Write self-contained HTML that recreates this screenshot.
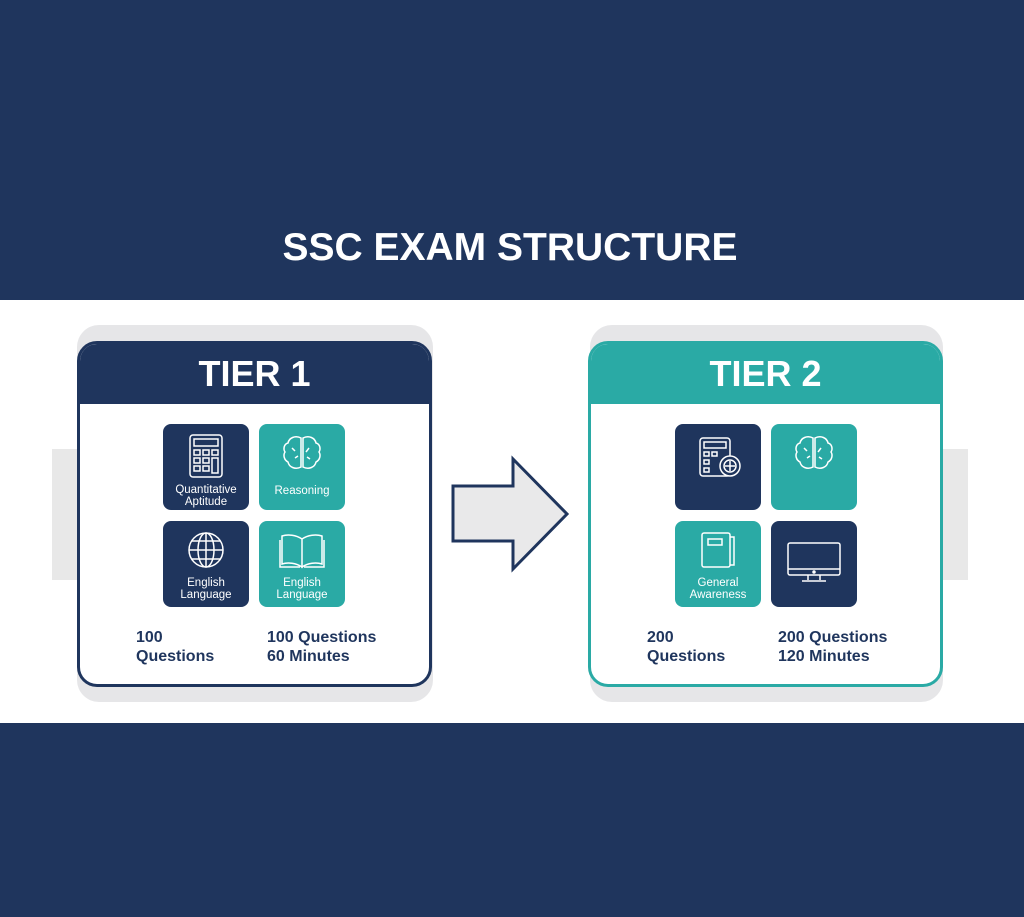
<!DOCTYPE html>
<html><head><meta charset="utf-8"><style>
*{margin:0;padding:0;box-sizing:border-box}
body{width:1024px;height:917px;position:relative;overflow:hidden;background:#fff;font-family:"Liberation Sans",sans-serif}
.band{position:absolute;left:0;width:1024px;background:#1f355d}
.abs{position:absolute}
.shadow{position:absolute;background:#e6e6e8;border-radius:22px}
.side{position:absolute;background:#e8e8e8}
.card{position:absolute;top:341px;width:355px;height:346px;border-radius:20px;background:#fff;overflow:hidden}
.hdr{position:absolute;left:0;top:0;width:100%;height:60px;color:#fff;font-weight:bold;font-size:36px;text-align:center;line-height:60px}
.tile{position:absolute;width:86px;height:86px;border-radius:8px;color:#fff;font-size:11.5px;text-align:center;line-height:12px}
.tile svg{position:absolute;left:23px;top:10px}
.tile .lb{position:absolute;left:0;width:100%}
.n{background:#1f355d}.t{background:#2aaaa5}
.stat{position:absolute;color:#1f355d;font-weight:bold;font-size:16px;line-height:19px}
</style></head><body>
<div class="band" style="top:0;height:300px"></div>
<div class="band" style="top:723px;height:194px"></div>
<div class="abs" style="top:226px;left:0;width:1020px;text-align:center;color:#fff;font-weight:bold;font-size:39px">SSC EXAM STRUCTURE</div>

<div class="side" style="left:52px;top:449px;width:30px;height:131px"></div>
<div class="side" style="left:940px;top:449px;width:28px;height:131px"></div>
<div class="shadow" style="left:77px;top:325px;width:356px;height:377px"></div>
<div class="shadow" style="left:590px;top:325px;width:353px;height:377px"></div>

<div class="card" style="left:77px;border:3px solid #1f355d">
 <div class="hdr" style="background:#1f355d">TIER 1</div>
</div>
<div class="card" style="left:588px;border:3px solid #2aaaa5">
 <div class="hdr" style="background:#2aaaa5">TIER 2</div>
</div>

<div class="tile n" style="left:163px;top:424px">
 <svg width="40" height="46" viewBox="0 0 40 46" fill="none" stroke="#fff" stroke-width="1.5"><rect x="4" y="1" width="32" height="42" rx="3"/><rect x="8" y="5" width="24" height="7"/><rect x="8" y="16" width="6" height="5"/><rect x="17" y="16" width="6" height="5"/><rect x="26" y="16" width="6" height="5"/><rect x="8" y="24" width="6" height="5"/><rect x="17" y="24" width="6" height="5"/><rect x="26" y="24" width="6" height="15"/><rect x="8" y="32" width="6" height="5"/><rect x="17" y="32" width="6" height="5"/></svg>
 <div class="lb" style="top:60px">Quantitative<br>Aptitude</div></div>
<div class="tile t" style="left:259px;top:424px">
 <svg width="40" height="40" viewBox="0 0 40 40" fill="none" stroke="#fff" stroke-width="1.5"><path d="M19 4c-6-3-12 0-13 5-4 1-5 6-3 9-2 3-1 8 3 10 1 5 7 8 13 5z"/><path d="M21 4c6-3 12 0 13 5 4 1 5 6 3 9 2 3 1 8-3 10-1 5-7 8-13 5z"/><path d="M10 14l3 3M13 24l3-2M27 14l-3 4M28 25l-3-2"/></svg>
 <div class="lb" style="top:61px">Reasoning</div></div>
<div class="tile n" style="left:163px;top:521px">
 <svg width="40" height="40" viewBox="0 0 40 40" fill="none" stroke="#fff" stroke-width="1.5"><circle cx="20" cy="19" r="17"/><ellipse cx="20" cy="19" rx="8" ry="17"/><path d="M20 2v34M3 19h34M6 10h28M6 28h28"/></svg>
 <div class="lb" style="top:56px">English<br>Language</div></div>
<div class="tile t" style="left:259px;top:521px">
 <svg width="48" height="40" viewBox="0 0 48 40" fill="none" stroke="#fff" stroke-width="1.5" style="left:19px"><path d="M24 8c-6-4-14-5-20-3v28c6-2 14-1 20 3zM24 8c6-4 14-5 20-3v28c-6-2-14-1-20 3z"/><path d="M2 9v27h20M46 9v27H26"/></svg>
 <div class="lb" style="top:56px">English<br>Language</div></div>

<div class="tile n" style="left:675px;top:424px">
 <svg width="44" height="46" viewBox="0 0 44 46" fill="none" stroke="#fff" stroke-width="1.5"><rect x="2" y="4" width="30" height="38" rx="3"/><rect x="6" y="8" width="22" height="6"/><rect x="6" y="18" width="5" height="4"/><rect x="14" y="18" width="5" height="4"/><rect x="6" y="26" width="5" height="4"/><rect x="6" y="34" width="5" height="4"/><circle cx="32" cy="32" r="10" fill="#1f355d"/><circle cx="32" cy="32" r="6"/><path d="M32 27v10M27 32h10"/></svg></div>
<div class="tile t" style="left:771px;top:424px">
 <svg width="40" height="40" viewBox="0 0 40 40" fill="none" stroke="#fff" stroke-width="1.5"><path d="M19 4c-6-3-12 0-13 5-4 1-5 6-3 9-2 3-1 8 3 10 1 5 7 8 13 5z"/><path d="M21 4c6-3 12 0 13 5 4 1 5 6 3 9 2 3 1 8-3 10-1 5-7 8-13 5z"/><path d="M10 14l3 3M13 24l3-2M27 14l-3 4M28 25l-3-2"/></svg></div>
<div class="tile t" style="left:675px;top:521px">
 <svg width="40" height="40" viewBox="0 0 40 40" fill="none" stroke="#fff" stroke-width="1.5" style="left:24px"><rect x="3" y="2" width="28" height="34" rx="2"/><path d="M31 6h4v28h-4"/><rect x="9" y="8" width="14" height="6"/></svg>
 <div class="lb" style="top:56px">General<br>Awareness</div></div>
<div class="tile n" style="left:771px;top:521px">
 <svg width="56" height="44" viewBox="0 0 56 44" fill="none" stroke="#fff" stroke-width="1.5" style="left:15px;top:20px"><rect x="2" y="2" width="52" height="32" rx="2"/><path d="M2 28h52M22 34v5M34 34v5M16 40h24"/><circle cx="28" cy="31" r="1" fill="#fff"/></svg></div>

<div class="stat" style="left:136px;top:628px">100<br>Questions</div>
<div class="stat" style="left:267px;top:628px">100 Questions<br>60 Minutes</div>
<div class="stat" style="left:647px;top:628px">200<br>Questions</div>
<div class="stat" style="left:778px;top:628px">200 Questions<br>120 Minutes</div>

<svg class="abs" style="left:0;top:0" width="1024" height="917"><polygon points="453,486 513,486 513,459 567,514 513,569 513,541 453,541" fill="#e9e9ea" stroke="#1f355d" stroke-width="3" stroke-linejoin="miter"/></svg>
</body></html>
